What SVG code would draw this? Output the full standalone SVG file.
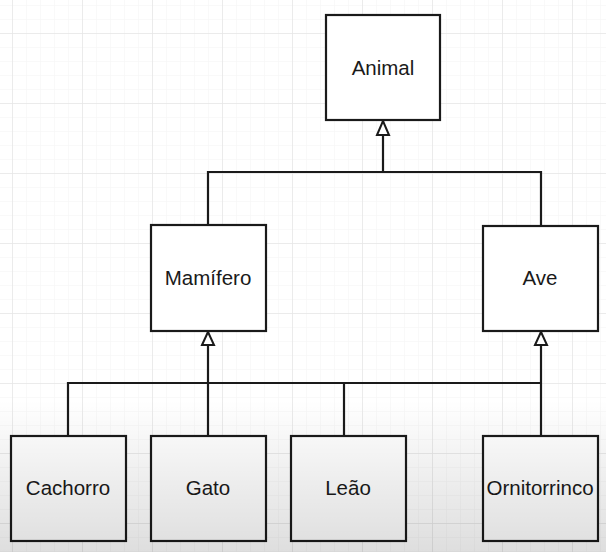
<svg xmlns="http://www.w3.org/2000/svg" width="606" height="552" viewBox="0 0 606 552">
<defs>
<pattern id="minor" x="12" y="33" width="14" height="14" patternUnits="userSpaceOnUse">
<path d="M0 0V14M0 0H14" fill="none" stroke="#f3f3f3" stroke-width="1"/>
</pattern>
<pattern id="major" x="12" y="33" width="70" height="70" patternUnits="userSpaceOnUse">
<path d="M0 0V70M0 0H70" fill="none" stroke="#e6e6e6" stroke-width="1.5"/>
</pattern>
<linearGradient id="shade" x1="0" y1="0" x2="0" y2="1">
<stop offset="0" stop-color="#000" stop-opacity="0"/>
<stop offset="1" stop-color="#000" stop-opacity="0.13"/>
</linearGradient>
<style>
.box{fill:#fff;stroke:#1a1a1a;stroke-width:2.2}
.lbl{font-family:"Liberation Sans",Arial,sans-serif;font-size:20.5px;fill:#1a1a1a;text-anchor:middle}
.con{fill:none;stroke:#1a1a1a;stroke-width:2.2}
.tri{fill:#fff;stroke:#1a1a1a;stroke-width:2}
</style>
</defs>
<rect width="606" height="552" fill="#fff"/>
<rect width="606" height="552" fill="url(#minor)"/>
<rect width="606" height="552" fill="url(#major)"/>
<g id="connectors">
<path class="con" d="M383 172V121"/>
<path class="con" d="M208 225V172H541V226"/>
<path class="con" d="M208 436V332"/>
<path class="con" d="M541 436V332"/>
<path class="con" d="M68 436V383H541"/>
<path class="con" d="M344 436V383"/>
<path class="tri" d="M377 135L383 121L389 135Z"/>
<path class="tri" d="M202 345L208 332L214 345Z"/>
<path class="tri" d="M535 345L541 332L547 345Z"/>
</g>
<g id="animal"><rect class="box" x="326" y="15" width="114" height="105"/><text class="lbl" x="383" y="75">Animal</text></g>
<g id="mamifero"><rect class="box" x="151" y="225" width="115" height="106"/><text class="lbl" x="208" y="285">Mamífero</text></g>
<g id="ave"><rect class="box" x="483" y="226" width="115" height="105"/><text class="lbl" x="540" y="285">Ave</text></g>
<g id="cachorro"><rect class="box" x="11" y="436" width="115" height="105"/><text class="lbl" x="68" y="495">Cachorro</text></g>
<g id="gato"><rect class="box" x="151" y="436" width="115" height="105"/><text class="lbl" x="208" y="495">Gato</text></g>
<g id="leao"><rect class="box" x="291" y="436" width="115" height="105"/><text class="lbl" x="348" y="495">Leão</text></g>
<g id="ornitorrinco"><rect class="box" x="483" y="436" width="115" height="105"/><text class="lbl" x="540" y="495">Ornitorrinco</text></g>
<rect x="0" y="400" width="606" height="152" fill="url(#shade)" pointer-events="none"/>
</svg>
